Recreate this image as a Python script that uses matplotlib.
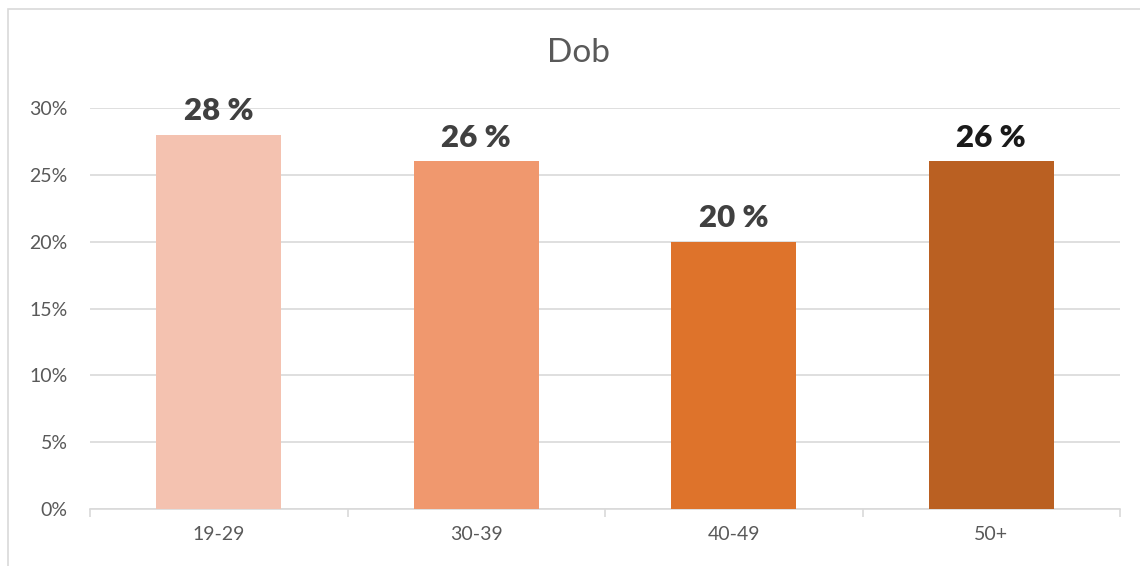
import matplotlib.pyplot as plt
import numpy as np
from matplotlib.patches import Rectangle

plt.rcParams['font.family'] = ['Lato', 'DejaVu Sans']

categories = ['19-29', '30-39', '40-49', '50+']
values = [28, 26, 20, 26]
labels = ['28 %', '26 %', '20 %', '26 %']
bar_colors = ['#F4C2B0', '#F0986E', '#DE732B', '#BA6022']
label_colors = ['#404040', '#404040', '#404040', '#1A1A1A']

fig = plt.figure(figsize=(11.4, 5.66), dpi=100)
ax = fig.add_axes([90 / 1140, 57 / 566, 1030 / 1140, 401 / 566])

# outer frame
fig.patches.append(Rectangle((8 / 1140, -0.01), 1.1, (566 - 9) / 566 + 0.01, transform=fig.transFigure,
                             fill=False, edgecolor='#D9D9D9', lw=1.2))

x = np.arange(len(categories))
ax.bar(x, values, width=0.485, color=bar_colors, zorder=3)
for xi, v, lab, c in zip(x, values, labels, label_colors):
    ax.text(xi, v + 1.1, lab, ha='center', va='baseline', fontsize=22.5, fontweight='heavy', color=c, zorder=4)

ax.set_xlim(-0.5, 3.5)
ax.set_ylim(0, 30)
ax.set_yticks(range(0, 31, 5))
ax.set_yticklabels([f'{t}%' for t in range(0, 31, 5)])
ax.yaxis.grid(True, color='#D9D9D9', lw=1.2, zorder=0)
ax.tick_params(axis='y', length=0, pad=16, labelsize=14, labelcolor='#595959')

ax.set_xticks(x)
ax.set_xticklabels(categories)
ax.set_xticks(np.arange(-0.5, 4.0, 1.0), minor=True)
ax.tick_params(axis='x', which='major', length=0, pad=12, labelsize=14, labelcolor='#595959')
ax.tick_params(axis='x', which='minor', length=6, color='#D9D9D9', width=1.2)

for s in ['top', 'right', 'left']:
    ax.spines[s].set_visible(False)
ax.spines['bottom'].set_color('#D9D9D9')
ax.spines['bottom'].set_linewidth(1.2)

fig.text(579 / 1140, 1 - 53 / 566, 'Dob', ha='center', va='center', fontsize=24, color='#595959')

fig.savefig('out.png', dpi=100)
